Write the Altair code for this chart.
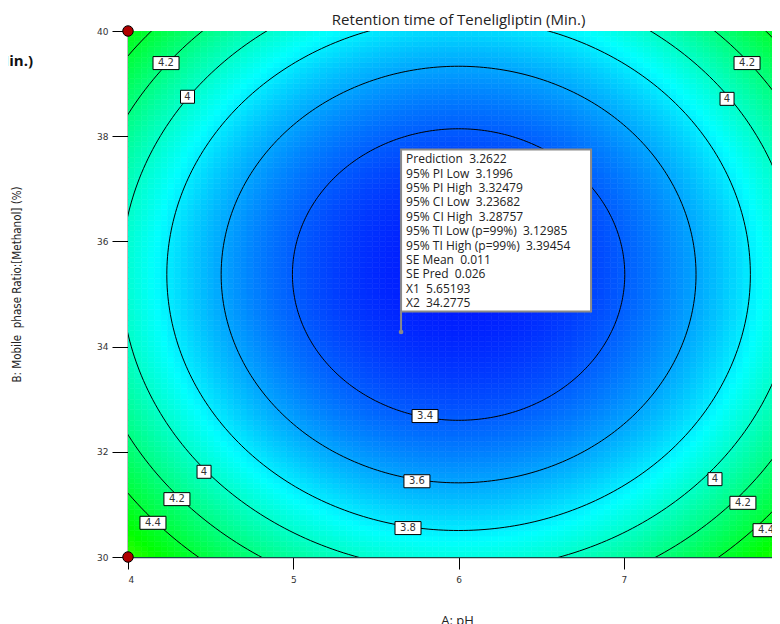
import numpy as np
import pandas as pd
import altair as alt

# ---- values ----
# fitted quadratic response surface (estimated from contour positions and the probe)
surface_center = [6.0, 35.37]      # pH, methanol %
surface_min = 3.208
surface_curv = [0.19, 0.025]

ph_range = [4, 8]
ph_visible = [4, 7.896]            # the picture is cut at its right edge
meth_range = [30, 40]
ph_step = 0.04
meth_step = 0.1

contour_levels = [3.4, 3.6, 3.8, 4.0, 4.2, 4.4]

label_text = ["4.2", "4", "4.2", "4", "4", "4.2", "4.4", "3.4", "3.6", "3.8", "4", "4.2", "4.4"]
label_ph = [4.23, 4.36, 7.745, 7.624, 4.46, 4.296, 4.151, 5.797, 5.748, 5.694, 7.551, 7.72, 7.86]
label_meth = [39.39, 38.75, 39.39, 38.71, 31.62, 31.10, 30.65, 32.68, 31.44, 30.55, 31.48, 31.03, 30.51]

design_ph = [4, 4]
design_meth = [40, 30]

probe_ph = 5.65193
probe_meth = 34.2775
probe_names = ["Prediction", "95% PI Low", "95% PI High", "95% CI Low", "95% CI High",
               "95% TI Low (p=99%)", "95% TI High (p=99%)", "SE Mean", "SE Pred", "X1", "X2"]
probe_values = ["3.2622", "3.1996", "3.32479", "3.23682", "3.28757", "3.12985", "3.39454",
                "0.011", "0.026", "5.65193", "34.2775"]

x_ticks = [4, 5, 6, 7, 8]
y_ticks = [30, 32, 34, 36, 38, 40]

color_stops = [3.208, 3.85, 4.55, 5.2]
color_range = ["#0018ff", "#00ffff", "#00ff00", "#ffff00"]

title_text = "Retention time of Teneligliptin (Min.)"
x_title = "A: pH"
y_title = "B: Mobile\u00a0 phase Ratio:[Methanol] (%)"


def surface(ph, meth):
    return (surface_min
            + surface_curv[0] * (ph - surface_center[0]) ** 2
            + surface_curv[1] * (meth - surface_center[1]) ** 2)


# ---- tables built from the values ----
xs = np.arange(ph_range[0], ph_range[1] - 1e-9, ph_step)
ys = np.arange(meth_range[0], meth_range[1] - 1e-9, meth_step)
gx, gy = np.meshgrid(xs, ys)
grid = pd.DataFrame({
    "x0": gx.ravel(), "x1": gx.ravel() + ph_step,
    "y0": gy.ravel(), "y1": gy.ravel() + meth_step,
})
grid["val"] = surface(grid.x0 + ph_step / 2, grid.y0 + meth_step / 2)
grid = grid[grid.x0 < ph_visible[1]].round(4)

rows = []
theta = np.linspace(0, 2 * np.pi, 361)
for lv in contour_levels:
    rx = np.sqrt((lv - surface_min) / surface_curv[0])
    ry = np.sqrt((lv - surface_min) / surface_curv[1])
    for i, t in enumerate(theta):
        rows.append({"level": lv, "i": i,
                     "x": surface_center[0] + rx * np.cos(t),
                     "y": surface_center[1] + ry * np.sin(t)})
contours = pd.DataFrame(rows)

labels = pd.DataFrame({"label": label_text, "x": label_ph, "y": label_meth})
design = pd.DataFrame({"x": design_ph, "y": design_meth})
probe_text = "\n".join(f"{n}\u00a0 {v}" for n, v in zip(probe_names, probe_values))
probe = pd.DataFrame({"x": [probe_ph], "y": [probe_meth], "text": [probe_text]})

# ---- scales / axes ----
xscale = alt.Scale(domain=ph_visible, nice=False, zero=False)
yscale = alt.Scale(domain=meth_range, nice=False, zero=False)
cscale = alt.Scale(domain=color_stops, range=color_range, interpolate="rgb")

xaxis = alt.Axis(values=x_ticks, format="d", title=x_title, grid=False, tickSize=12,
                 tickColor="black", domainColor="#1a4a4a", domainWidth=1.5,
                 labelFont="DejaVu Sans", labelFontSize=9, labelColor="#333333", labelPadding=6,
                 titleFont="Open Sans", titleFontSize=13, titleFontWeight="normal",
                 titleColor="#222222", titleX=329, titleY=63, titleBaseline="middle")
yaxis = alt.Axis(values=y_ticks, format="d", title=y_title, grid=False, tickSize=16,
                 tickColor="black", domainColor="black", domainWidth=1.5,
                 labelFont="DejaVu Sans", labelFontSize=9, labelColor="#333333", labelPadding=4,
                 titleFont="DejaVu Sans Condensed, Liberation Sans Narrow, sans-serif",
                 titleFontSize=11.5, titleFontWeight="normal", titleColor="#222222",
                 titleX=-111, titleY=253, titleBaseline="middle", titleAngle=270)

heat = alt.Chart(grid).mark_rect(clip=True, strokeWidth=0.6).encode(
    x=alt.X("x0:Q", scale=xscale, axis=xaxis),
    x2="x1:Q",
    y=alt.Y("y0:Q", scale=yscale, axis=yaxis),
    y2="y1:Q",
    color=alt.Color("val:Q", scale=cscale, legend=None),
    stroke=alt.Stroke("val:Q", scale=cscale, legend=None),
)

lines = alt.Chart(contours).mark_line(clip=True, color="black", strokeWidth=1).encode(
    x="x:Q", y="y:Q", detail="level:N", order="i:Q")

long_boxes = alt.Chart(labels).transform_filter("length(datum.label) > 1").mark_rect(
    width=26, height=13, fill="white", stroke="black", strokeWidth=1).encode(x="x:Q", y="y:Q")
short_boxes = alt.Chart(labels).transform_filter("length(datum.label) <= 1").mark_rect(
    width=14, height=13, fill="white", stroke="black", strokeWidth=1).encode(x="x:Q", y="y:Q")
label_txt = alt.Chart(labels).mark_text(font="DejaVu Sans", fontSize=10, color="#333333",
                                        baseline="middle").encode(x="x:Q", y="y:Q", text="label:N")

points = alt.Chart(design).mark_point(filled=True, size=110, fill="#b00000", stroke="black",
                                      strokeWidth=1, opacity=1).encode(x="x:Q", y="y:Q")

pin = alt.Chart(probe).mark_rect(width=2, height=20, yOffset=-10, color="#8a8a8a").encode(
    x="x:Q", y="y:Q")
pin_dot = alt.Chart(probe).mark_circle(size=22, color="#8a8a8a", opacity=1).encode(x="x:Q", y="y:Q")
box = alt.Chart(probe).mark_rect(width=190, height=162, xOffset=95, yOffset=-101.5, fill="white",
                                 stroke="#8a8a8a", strokeWidth=2).encode(x="x:Q", y="y:Q")
box_txt = alt.Chart(probe).mark_text(align="left", baseline="middle", dx=5, dy=-172.7,
                                     lineBreak="\n", lineHeight=14.4, font="Open Sans",
                                     fontSize=12, color="#222222").encode(
    x="x:Q", y="y:Q", text="text:N")

title = alt.Chart(probe).mark_text(font="Open Sans", fontSize=15, color="#222222",
                                   baseline="middle").encode(
    x=alt.datum(6), y=alt.value(-11), text=alt.value(title_text))
left_title = alt.Chart(probe).mark_text(font="Open Sans", fontSize=15, fontWeight="bold",
                                        color="#111111", align="right", baseline="middle").encode(
    x=alt.value(-95), y=alt.value(30), text=alt.value(title_text))

chart = alt.layer(
    heat, lines, long_boxes, short_boxes, label_txt, pin, box, box_txt, pin_dot, points,
    title, left_title,
).properties(
    width=644, height=526,
    autosize=alt.AutoSizeParams(type="none"),
    padding={"left": 120, "top": 23, "right": 0, "bottom": 75},
).configure_view(stroke=None)

chart.save("out.html", embed_options={"renderer": "svg", "actions": False})
